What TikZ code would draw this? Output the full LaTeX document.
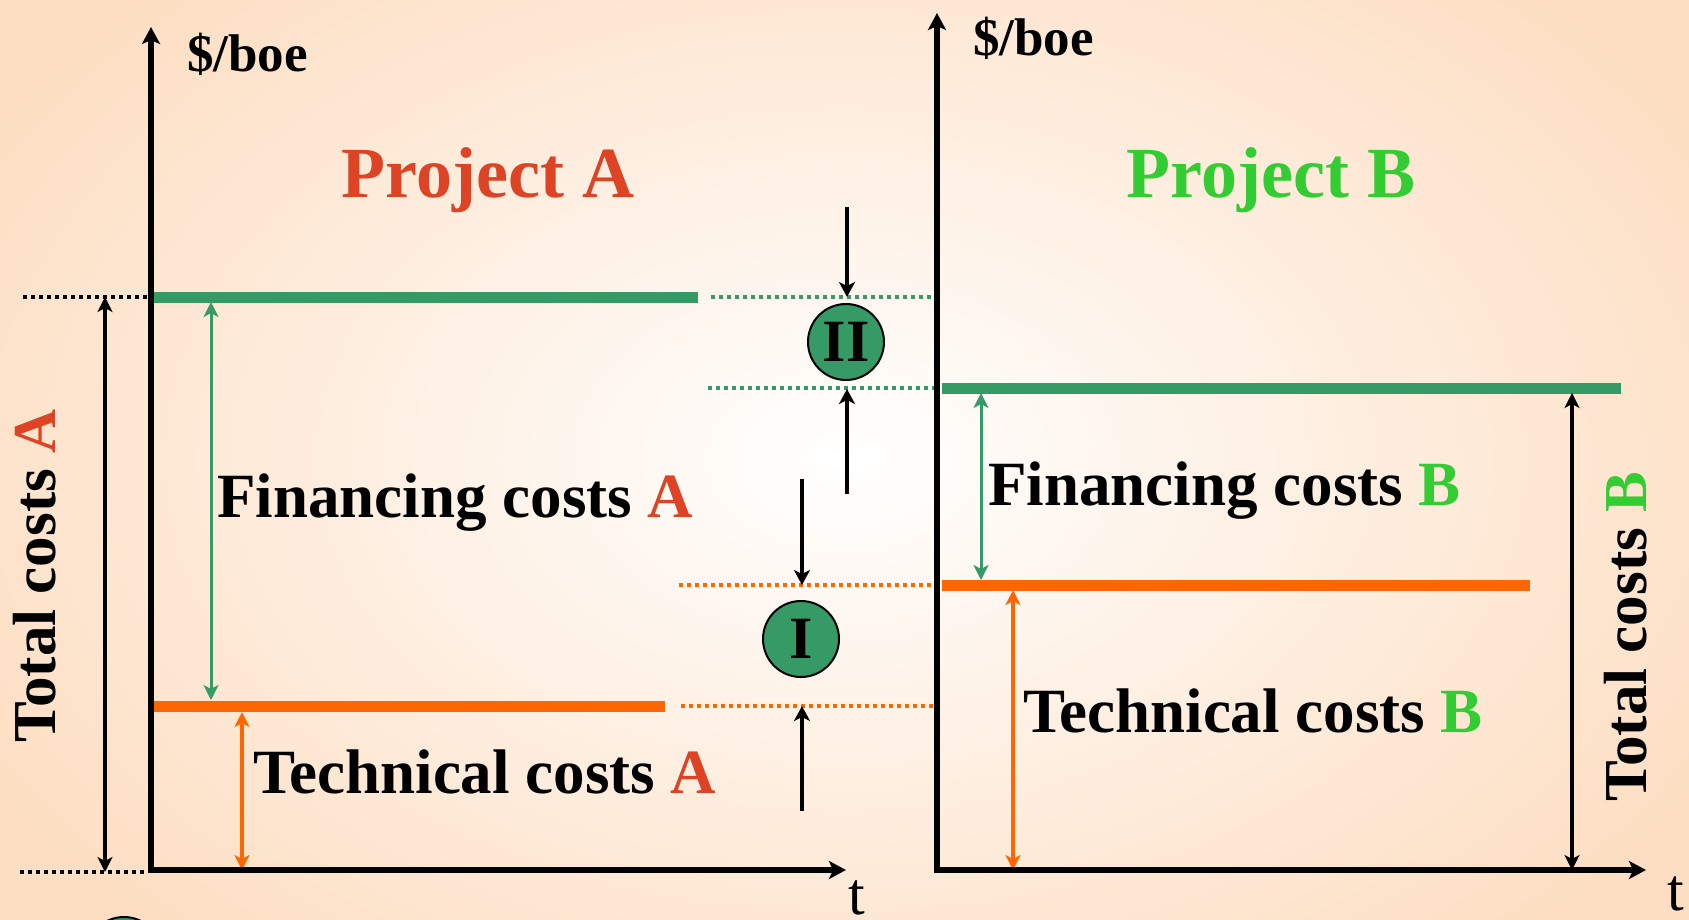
\documentclass[tikz,border=0pt]{standalone}
\usepackage{fontspec}
\setmainfont{Liberation Serif}
\usepackage{xcolor}
\usetikzlibrary{arrows.meta}
\definecolor{projred}{RGB}{221,68,38}
\definecolor{projgreen}{RGB}{51,204,51}
\definecolor{linegreen}{RGB}{53,154,102}
\definecolor{lineorange}{RGB}{255,102,0}
\definecolor{bgpeach}{RGB}{253,222,194}
\tikzset{
  axisline/.style={line width=6pt,-{Stealth[length=17pt,width=18pt,inset=4pt]}},
  costlevel/.style={line width=11pt},
  dotline/.style={line width=4pt,dash pattern=on 4pt off 4pt},
  dimarrow/.style={line width=4pt,
    {Stealth[length=15pt,width=15pt,inset=4pt]}-{Stealth[length=15pt,width=15pt,inset=4pt]}},
  gaparrow/.style={line width=4pt,-{Stealth[length=15pt,width=16pt,inset=4pt]}},
  stepcircle/.style={circle,draw=black,line width=2pt,fill=linegreen,
    minimum size=76pt,inner sep=0pt,font=\fontsize{60}{60}\selectfont\bfseries},
  costlabel/.style={anchor=base west,inner sep=0pt,
    font=\fontsize{63}{63}\selectfont\bfseries},
  totlabel/.style={costlabel,rotate=90,font=\fontsize{61}{61}\selectfont\bfseries},
  projlabel/.style={anchor=base,inner sep=0pt,font=\fontsize{72}{72}\selectfont\bfseries},
  unitlabel/.style={anchor=base west,inner sep=0pt,font=\fontsize{53}{53}\selectfont\bfseries},
  timelabel/.style={anchor=base,inner sep=0pt,font=\fontsize{60}{60}\selectfont},
}

\begin{document}
\begin{tikzpicture}[x=1pt,y=-1pt]
  \useasboundingbox (0,0) rectangle (1689,919);
  \begin{scope}
    \clip (0,0) rectangle (1689,919);
    \shade[inner color=white,outer color=bgpeach] (-150,-200) rectangle (1839,1119);
  \end{scope}

  % axes
  \coordinate (oA) at (151,870);
  \coordinate (yA) at (151,27);
  \coordinate (xA) at (846,870);
  \coordinate (oB) at (937,870);
  \coordinate (yB) at (937,13);
  \coordinate (xB) at (1646,870);

  % cost levels
  \coordinate (gA0) at (154,297);  \coordinate (gA1) at (698,297);
  \coordinate (rA0) at (154,706);  \coordinate (rA1) at (665,706);
  \coordinate (gB0) at (942,388);  \coordinate (gB1) at (1621,388);
  \coordinate (rB0) at (942,585);  \coordinate (rB1) at (1530,585);

  % dotted guides
  \coordinate (kt0) at (23,297);   \coordinate (kt1) at (148,297);
  \coordinate (kb0) at (20,872);   \coordinate (kb1) at (148,872);
  \coordinate (gt0) at (711,297);  \coordinate (gt1) at (935,297);
  \coordinate (gb0) at (708,388);  \coordinate (gb1) at (935,388);
  \coordinate (ot0) at (679,585);  \coordinate (ot1) at (935,585);
  \coordinate (ob0) at (681,706);  \coordinate (ob1) at (935,706);

  \draw[dotline] (kt0) -- (kt1);
  \draw[dotline] (kb0) -- (kb1);
  \draw[dotline,linegreen] (gt0) -- (gt1);
  \draw[dotline,linegreen] (gb0) -- (gb1);
  \draw[dotline,lineorange] (ot0) -- (ot1);
  \draw[dotline,lineorange] (ob0) -- (ob1);

  \draw[costlevel,linegreen] (gA0) -- (gA1);
  \draw[costlevel,lineorange] (rA0) -- (rA1);
  \draw[costlevel,linegreen] (gB0) -- (gB1);
  \draw[costlevel,lineorange] (rB0) -- (rB1);

  % dimension arrows
  \coordinate (dA0) at (105,297);  \coordinate (dA1) at (105,872);
  \coordinate (fA0) at (211,302);  \coordinate (fA1) at (211,700);
  \coordinate (tA0) at (242,712);  \coordinate (tA1) at (242,870);
  \coordinate (fB0) at (981,393);  \coordinate (fB1) at (981,580);
  \coordinate (tB0) at (1013,590); \coordinate (tB1) at (1013,870);
  \coordinate (dB0) at (1572,393); \coordinate (dB1) at (1572,870);

  \draw[dimarrow] (dA0) -- (dA1);
  \draw[dimarrow,linegreen,line width=3pt] (fA0) -- (fA1);
  \draw[dimarrow,lineorange] (tA0) -- (tA1);
  \draw[dimarrow,linegreen,line width=3pt] (fB0) -- (fB1);
  \draw[dimarrow,lineorange] (tB0) -- (tB1);
  \draw[dimarrow] (dB0) -- (dB1);

  % gap markers
  \node[stepcircle] (stepII) at (846,342) {II};
  \node[stepcircle] (stepI) at (801,639) {I};
  \node[stepcircle] (stepX) at (124,955) {};
  \coordinate (sIIa) at (847,207);  \coordinate (sIIb) at (847,297);
  \coordinate (sIIc) at (847,494);  \coordinate (sIId) at (847,389);
  \coordinate (sIa) at (802,479);   \coordinate (sIb) at (802,585);
  \coordinate (sIc) at (802,811);   \coordinate (sId) at (802,706);
  \draw[gaparrow] (sIIa) -- (sIIb);
  \draw[gaparrow] (sIIc) -- (sIId);
  \draw[gaparrow] (sIa) -- (sIb);
  \draw[gaparrow] (sIc) -- (sId);

  \draw[axisline] (oA) -- (yA);
  \draw[axisline] ([xshift=-3pt]oA) -- (xA);
  \draw[axisline] (oB) -- (yB);
  \draw[axisline] ([xshift=-3pt]oB) -- (xB);

  % labels
  \node[unitlabel] (unitA) at (187,71) {\$/boe};
  \node[unitlabel] (unitB) at (973,55) {\$/boe};
  \node[timelabel] (timeA) at (857,914) {t};
  \node[timelabel] (timeB) at (1676,910) {t};
  \node[projlabel,projred] (projA) at (488,197) {Project A};
  \node[projlabel,projgreen] (projB) at (1271,197) {Project B};
  \node[costlabel] (finA) at (217,517) {Financing costs \textcolor{projred}{A}};
  \node[costlabel] (techA) at (253,793) {Technical costs \textcolor{projred}{A}};
  \node[costlabel] (finB) at (988,505) {Financing costs \textcolor{projgreen}{B}};
  \node[costlabel] (techB) at (1023,732) {Technical costs \textcolor{projgreen}{B}};
  \node[totlabel] (totA) at (55,743) {Total costs \textcolor{projred}{A}};
  \node[totlabel] (totB) at (1646,802) {Total costs \textcolor{projgreen}{B}};
\end{tikzpicture}
\end{document}
